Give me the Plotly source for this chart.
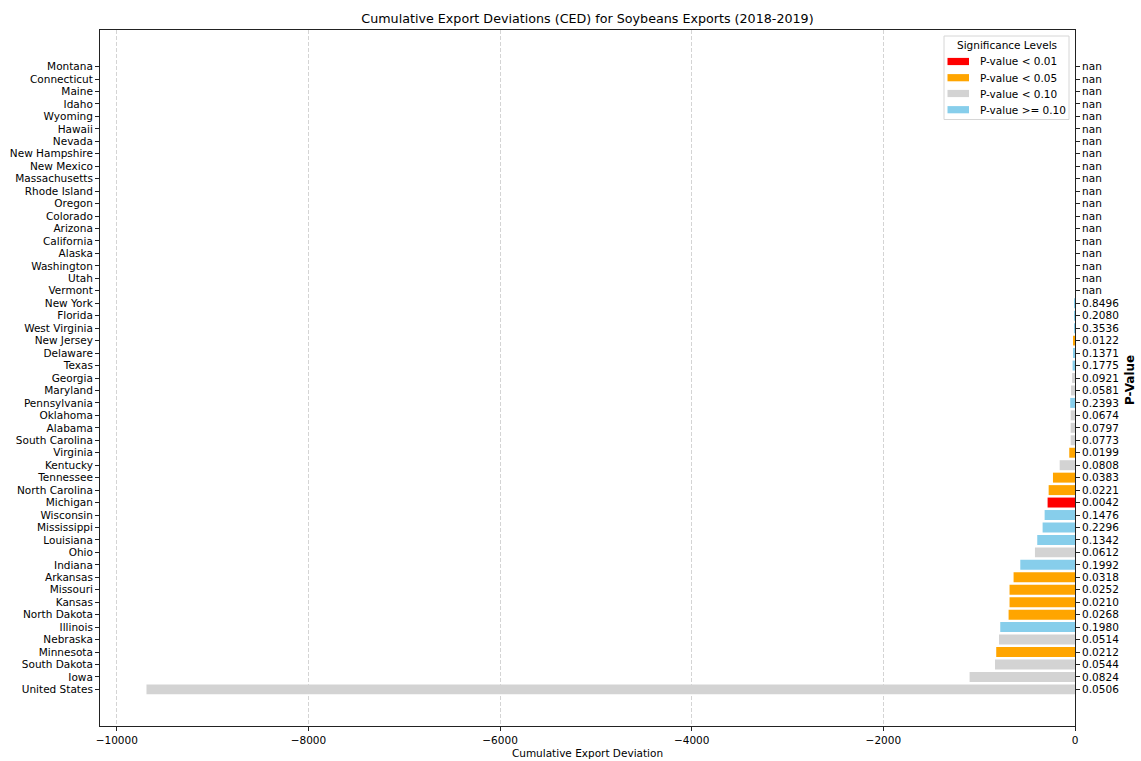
import plotly.graph_objects as go

# States listed top to bottom as drawn
states = [
    "Montana", "Connecticut", "Maine", "Idaho", "Wyoming", "Hawaii", "Nevada",
    "New Hampshire", "New Mexico", "Massachusetts", "Rhode Island", "Oregon",
    "Colorado", "Arizona", "California", "Alaska", "Washington", "Utah", "Vermont",
    "New York", "Florida", "West Virginia", "New Jersey", "Delaware", "Texas",
    "Georgia", "Maryland", "Pennsylvania", "Oklahoma", "Alabama", "South Carolina",
    "Virginia", "Kentucky", "Tennessee", "North Carolina", "Michigan", "Wisconsin",
    "Mississippi", "Louisiana", "Ohio", "Indiana", "Arkansas", "Missouri", "Kansas",
    "North Dakota", "Illinois", "Nebraska", "Minnesota", "South Dakota", "Iowa",
    "United States",
]

# Cumulative export deviation per state (None = no estimate)
ced = [
    None, None, None, None, None, None, None,
    None, None, None, None, None,
    None, None, None, None, None, None, None,
    -2, -3, -10, -12, -15, -25,
    -30, -42, -50, -45, -45, -45,
    -60, -160, -230, -275, -286, -317,
    -338, -394, -418, -571, -641, -683, -683,
    -693, -780, -793, -822, -835, -1100,
    -9690,
]

# P-values of each state's deviation (None = nan)
p_values = [
    None, None, None, None, None, None, None,
    None, None, None, None, None,
    None, None, None, None, None, None, None,
    0.8496, 0.2080, 0.3536, 0.0122, 0.1371, 0.1775,
    0.0921, 0.0581, 0.2393, 0.0674, 0.0797, 0.0773,
    0.0199, 0.0808, 0.0383, 0.0221, 0.0042, 0.1476,
    0.2296, 0.1342, 0.0612, 0.1992, 0.0318, 0.0252, 0.0210,
    0.0268, 0.1980, 0.0514, 0.0212, 0.0544, 0.0824,
    0.0506,
]

levels = ["P-value < 0.01", "P-value < 0.05", "P-value < 0.10", "P-value >= 0.10"]
level_colors = ["#ff0000", "#ffa500", "#d3d3d3", "#87ceeb"]


def level_of(p):
    if p < 0.01:
        return 0
    if p < 0.05:
        return 1
    if p < 0.10:
        return 2
    return 3


n = len(states)
positions = [n - 1 - i for i in range(n)]
p_labels = ["nan" if p is None else f"{p:.4f}" for p in p_values]

FONT = "DejaVu Sans"
FS = 10.5
W, H = 1141, 761
ML, MR, MT, MB = 100, 66, 30, 35
PW, PH = W - ML - MR, H - MT - MB


def px(x):
    return (x - ML) / PW


def py(y):
    return (H - MB - y) / PH


fig = go.Figure()

for k, (name, color) in enumerate(zip(levels, level_colors)):
    xs, ys = [], []
    for pos, v, p in zip(positions, ced, p_values):
        if p is not None and v is not None and level_of(p) == k:
            xs.append(v)
            ys.append(pos)
    fig.add_trace(go.Bar(
        x=xs, y=ys, orientation="h", name=name,
        marker=dict(color=color, line=dict(width=0)),
        width=0.8, showlegend=False,
    ))

# invisible trace carrying the right-hand P-value axis
fig.add_trace(go.Scatter(x=[None], y=[None], yaxis="y2", showlegend=False,
                         hoverinfo="skip"))

y_range = [-2.94, n - 1 + 2.94]
x_ticks = [-10000, -8000, -6000, -4000, -2000, 0]

# Legend box drawn in paper coordinates
shapes = [dict(
    type="rect", xref="paper", yref="paper",
    x0=px(944), x1=px(1069), y0=py(119.5), y1=py(36),
    line=dict(color="#d6d6d6", width=1), fillcolor="rgba(255,255,255,0.8)",
    layer="above",
)]
annotations = [dict(
    text="Significance Levels", xref="paper", yref="paper",
    x=px(1006.5), y=py(45), showarrow=False, xanchor="center", yanchor="middle",
    font=dict(size=FS, color="black"),
)]
row_y = [61.5, 77.7, 93.5, 109.7]
for name, color, ry in zip(levels, level_colors, row_y):
    shapes.append(dict(
        type="rect", xref="paper", yref="paper",
        x0=px(947.5), x1=px(969), y0=py(ry + 3.6), y1=py(ry - 3.6),
        line=dict(width=0), fillcolor=color, layer="above",
    ))
    annotations.append(dict(
        text=name, xref="paper", yref="paper", x=px(977.5), y=py(ry),
        showarrow=False, xanchor="left", yanchor="middle",
        font=dict(size=FS, color="black"),
    ))

annotations.append(dict(
    text="<b>P-Value</b>", xref="paper", yref="paper",
    x=px(1130), y=py(380), textangle=-90, showarrow=False,
    font=dict(size=12, color="black"), xanchor="center", yanchor="middle",
))

fig.update_layout(
    width=W, height=H,
    margin=dict(l=ML, r=MR, t=MT, b=MB),
    paper_bgcolor="white", plot_bgcolor="white",
    font=dict(family=FONT, size=FS, color="black"),
    barmode="overlay",
    title=dict(text="Cumulative Export Deviations (CED) for Soybeans Exports (2018-2019)",
               x=587.5 / W, xanchor="center",
               y=1 - 19 / H, yanchor="middle",
               font=dict(size=12.7, color="black")),
    xaxis=dict(
        range=[-10175, 0], tickvals=x_ticks,
        ticktext=[("\u2212" + str(-t)) if t < 0 else str(t) for t in x_ticks],
        showgrid=True, gridcolor="#d4d4d4", griddash="4px,2px", gridwidth=1,
        zeroline=False, showline=True, linecolor="#222222", linewidth=1, mirror=True,
        ticks="outside", ticklen=4, tickcolor="#222222", automargin=False,
        title=dict(text="Cumulative Export Deviation", standoff=5, font=dict(size=FS)),
    ),
    yaxis=dict(
        range=y_range, tickvals=positions, ticktext=states,
        showgrid=False, zeroline=False, showline=True, linecolor="#222222",
        linewidth=1, ticks="outside", ticklen=4, tickcolor="#222222",
        automargin=False,
    ),
    yaxis2=dict(
        range=y_range, tickvals=positions, ticktext=p_labels,
        overlaying="y", side="right", showgrid=False, zeroline=False,
        showline=True, linecolor="#222222", linewidth=1,
        ticks="outside", ticklen=4, tickcolor="#222222", automargin=False,
    ),
    shapes=shapes,
    annotations=annotations,
)

fig.write_html("out.html")
